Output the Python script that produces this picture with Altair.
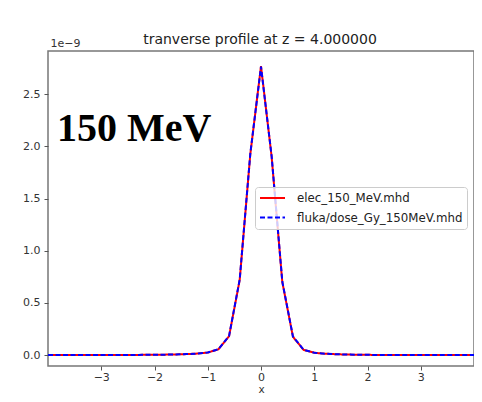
import altair as alt
import pandas as pd

# x positions (step 0.2 from -4 to 4)
x_vals = [round(-4.0 + 0.2 * i, 1) for i in range(41)]

# transverse dose profile, units of 1e-9 (index 20 is x = 0)
elec_vals = [0.000, 0.000, 0.000, 0.000, 0.000, 0.000, 0.000, 0.001, 0.001, 0.002,
             0.003, 0.004, 0.006, 0.009, 0.014, 0.024, 0.055, 0.180, 0.720, 1.930,
             2.770,
             1.900, 0.700, 0.175, 0.050, 0.022, 0.013, 0.008, 0.005, 0.003, 0.002,
             0.001, 0.001, 0.000, 0.000, 0.000, 0.000, 0.000, 0.000, 0.000, 0.000]
fluka_vals = [0.000, 0.000, 0.000, 0.000, 0.000, 0.000, 0.000, 0.001, 0.001, 0.002,
              0.003, 0.004, 0.006, 0.009, 0.014, 0.024, 0.056, 0.182, 0.725, 1.935,
              2.765,
              1.905, 0.705, 0.178, 0.051, 0.022, 0.013, 0.008, 0.005, 0.003, 0.002,
              0.001, 0.001, 0.000, 0.000, 0.000, 0.000, 0.000, 0.000, 0.000, 0.000]
series_names = ["elec_150_MeV.mhd", "fluka/dose_Gy_150MeV.mhd"]
x_ticks = [-3, -2, -1, 0, 1, 2, 3]
y_ticks = [0.0, 0.5, 1.0, 1.5, 2.0, 2.5]
title_text = "tranverse profile at z = 4.000000"
energy_label = "150 MeV"

rows = []
for name, vals in zip(series_names, [elec_vals, fluka_vals]):
    for xv, yv in zip(x_vals, vals):
        rows.append({"x": xv, "dose": yv, "series": name})
df = pd.DataFrame(rows)

FONT = "DejaVu Sans"

lines = alt.Chart(df).mark_line(strokeWidth=2, clip=True).encode(
    x=alt.X("x:Q", scale=alt.Scale(domain=[-4, 4], nice=False, zero=False),
            axis=alt.Axis(values=x_ticks, title="x", format="d", grid=False,
                          domain=False, tickSize=4, tickColor="#555",
                          labelFont=FONT, labelFontSize=11, labelColor="#333",
                          labelPadding=1.5, titleFont=FONT, titleFontSize=10.5,
                          titleFontWeight="normal", titleColor="#333",
                          titleBaseline="bottom", titleY=28)),
    y=alt.Y("dose:Q", scale=alt.Scale(domain=[-0.105, 2.915], nice=False, zero=False),
            axis=alt.Axis(values=y_ticks, format=".1f", grid=False, domain=False,
                          tickSize=4, tickColor="#555", labelFont=FONT,
                          labelFontSize=11, labelColor="#333", labelPadding=4,
                          title="1e\u22129", titleAngle=0, titleAlign="left",
                          titleBaseline="alphabetic", titleX=2, titleY=-4.5,
                          titleFont=FONT, titleFontSize=11, titleFontWeight="normal",
                          titleColor="#333")),
    color=alt.Color("series:N",
                    scale=alt.Scale(domain=series_names, range=["#ff0000", "#0000ff"]),
                    legend=alt.Legend(title=None, orient="none", legendX=207, legendY=136,
                                      symbolType="M-1,0H3.1667", symbolSize=144,
                                      symbolStrokeWidth=2, labelFont=FONT,
                                      labelFontSize=11.8, labelColor="#222",
                                      labelOffset=24, labelLimit=400, rowPadding=5.6,
                                      padding=4,
                                      fillColor="rgba(255,255,255,0.8)",
                                      strokeColor="#cccccc", cornerRadius=3)),
    strokeDash=alt.StrokeDash("series:N",
                              scale=alt.Scale(domain=series_names, range=[[1, 0], [5, 2.5]]),
                              legend=alt.Legend(title=None, orient="none", legendX=207,
                                                legendY=136)),
)

label_df = pd.DataFrame({"label": [energy_label]})
label = alt.Chart(label_df).mark_text(
    align="left", baseline="alphabetic", font="Liberation Serif",
    fontWeight="bold", fontSize=40, color="#000"
).encode(x=alt.value(9), y=alt.value(89.5), text="label:N")

title_df = pd.DataFrame({"t": [title_text]})
title = alt.Chart(title_df).mark_text(
    align="center", baseline="alphabetic", font=FONT, fontSize=14, color="#222"
).encode(x=alt.value(212), y=alt.value(-7.5), text="t:N")

chart = alt.layer(lines, label, title).properties(
    width=426, height=315,
    autosize=alt.AutoSizeParams(type="none"),
    padding={"left": 40, "top": 43, "right": 0, "bottom": 28},
    background="white",
).configure_view(stroke="#777", strokeWidth=1.5)

chart.save("out.html", embed_options={"renderer": "svg", "actions": False})
